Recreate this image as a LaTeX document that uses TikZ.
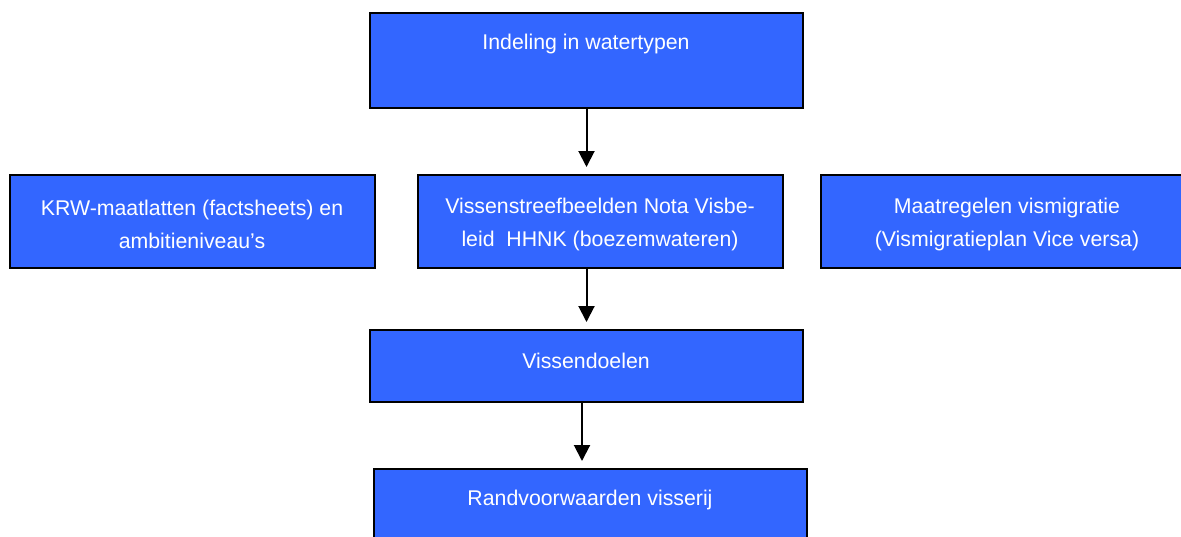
\documentclass[tikz,border=0pt]{standalone}
\usepackage{fontspec}
\setmainfont{Liberation Sans}
\usetikzlibrary{arrows.meta}
\definecolor{boxblue}{HTML}{3366FF}
\begin{document}
\begin{tikzpicture}[x=1pt,y=-1pt,
  box/.style={draw=black,line width=2.4pt,fill=boxblue,rectangle,inner sep=0pt,outer sep=0pt},
  lbl/.style={text=white,align=center,inner sep=0pt,font=\fontsize{21.3}{33}\selectfont},
  arr/.style={line width=2pt,-{Triangle[width=16pt,length=16pt]},shorten >=8pt}]
\useasboundingbox (0,0) rectangle (1181,536);
\node[box,minimum width=433pt,minimum height=95pt] (b1) at (586.5,60.5) {};
\node[box,minimum width=365pt,minimum height=93pt] (b2) at (192.5,221.5) {};
\node[box,minimum width=365pt,minimum height=93pt] (b3) at (600.5,221.5) {};
\node[box,minimum width=374pt,minimum height=93pt] (b4) at (1008,221.5) {};
\node[box,minimum width=433pt,minimum height=72pt] (b5) at (586.5,366) {};
\node[box,minimum width=433pt,minimum height=91pt] (b6) at (590.5,514.5) {};
\node[lbl] (t1) at (586,44) {Indeling in watertypen};
\node[lbl] (t2) at (192,224) {KRW-maatlatten (factsheets) en\\ambitieniveau’s};
\node[lbl] (t3) at (600,224) {Vissenstreefbeelden Nota Visbe-\\leid\ \ HHNK (boezemwateren)};
\node[lbl] (t4) at (1007,224) {Maatregelen vismigratie\\(Vismigratieplan Vice versa)};
\node[lbl] (t5) at (586,361) {Vissendoelen};
\node[lbl] (t6) at (590,500) {Randvoorwaarden visserij};
\draw[arr] (b1.south) -- (b1.south |- b3.north);
\draw[arr] (b1.south |- b3.south) -- (b1.south |- b5.north);
\draw[arr] ([xshift=-4.5pt]b5.south) -- ([xshift=-4.5pt]b5.south |- b6.north);
\end{tikzpicture}
\end{document}
